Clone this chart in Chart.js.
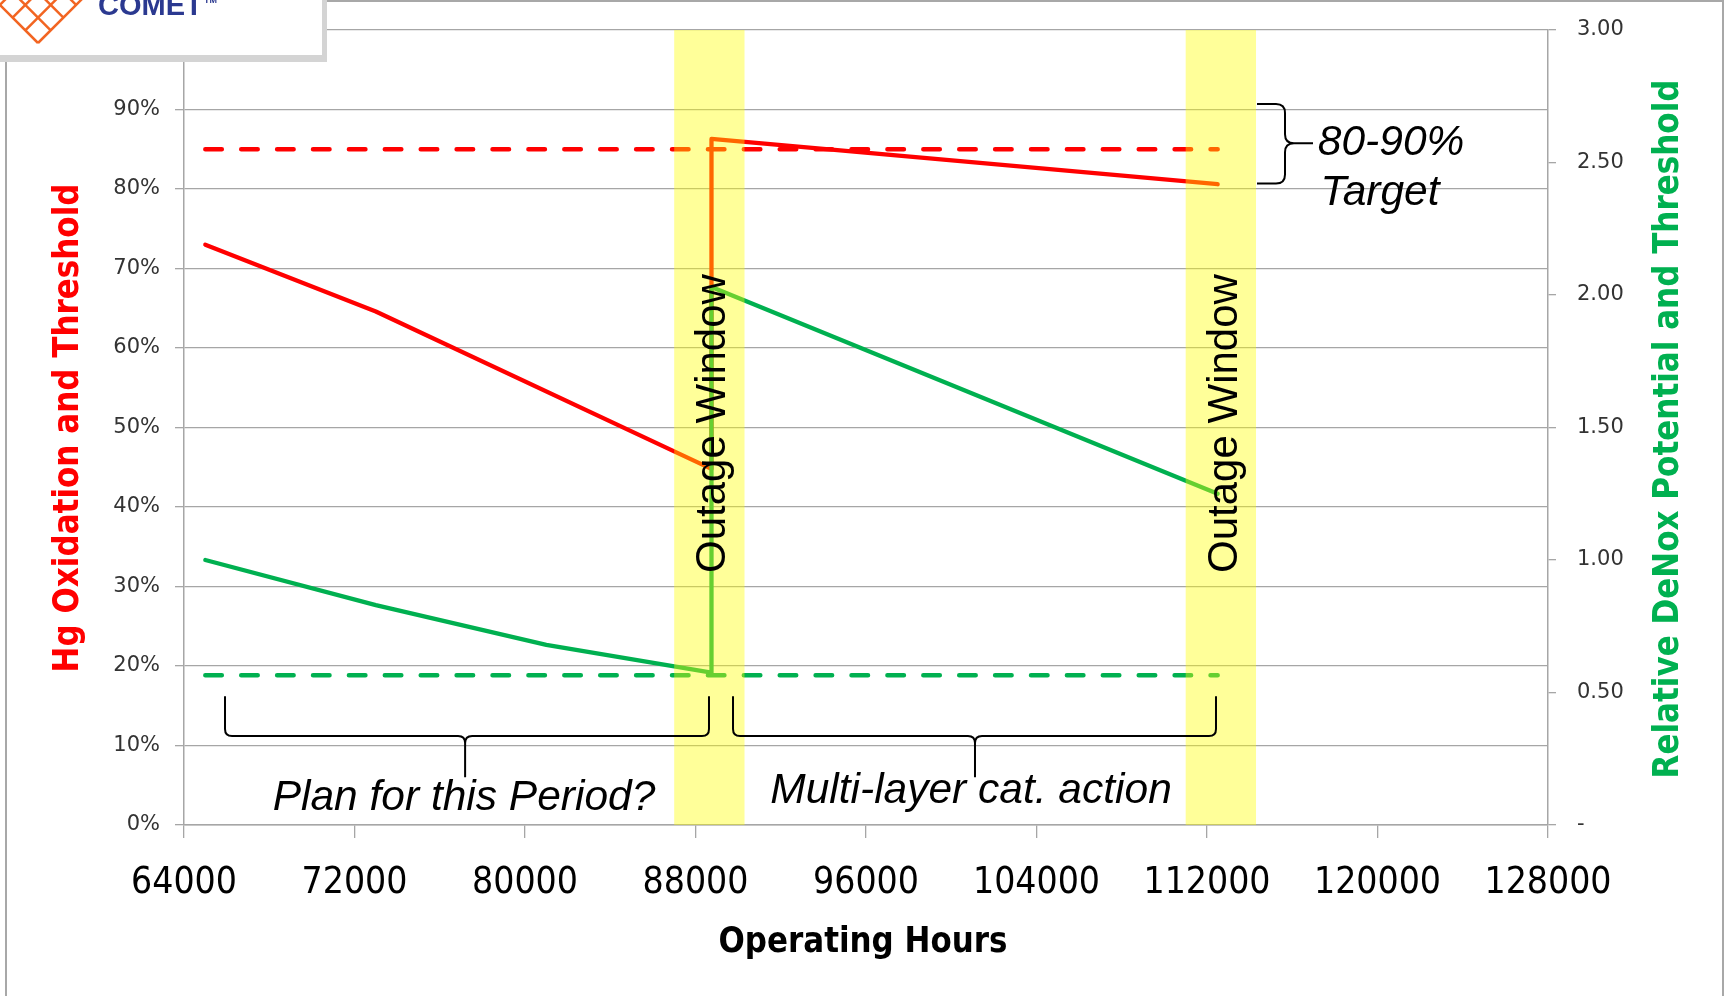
<!DOCTYPE html>
<html>
<head>
<meta charset="utf-8">
<script src="https://cdn.jsdelivr.net/npm/chart.js@4.4.1/dist/chart.umd.min.js"></script>
<style>
  html, body { margin: 0; padding: 0; background: #fff; overflow: hidden; }
  canvas { display: block; }
</style>
</head>
<body>
<canvas id="chart" width="1729" height="996"></canvas>
<script>
// Operating-hours axis ticks
const hourTicks = [64000, 72000, 80000, 88000, 96000, 104000, 112000, 120000, 128000];
// Left axis (Hg oxidation, %) and right axis (relative DeNOx) ticks
const percentTicks = [0, 10, 20, 30, 40, 50, 60, 70, 80, 90, 100];
const denoxTicks = [0, 0.5, 1.0, 1.5, 2.0, 2.5, 3.0];

// Hg oxidation (%) over operating hours
const hgHours = [65000, 73000, 88750, 88750, 112500];
const hgOxidation = [73.0, 64.6, 44.8, 86.3, 80.6];

// Relative DeNOx potential over operating hours
const denoxHours = [65000, 73000, 81000, 88750, 88750, 112500];
const denoxPotential = [1.00, 0.83, 0.68, 0.575, 2.03, 1.25];

// Threshold lines
const thresholdHours = [65000, 112500];
const hgThreshold = [85, 85];
const denoxThreshold = [0.565, 0.565];

// Outage windows (start / end operating hours)
const outageStart = [87000, 111000];
const outageEnd = [90300, 114300];

const RED = '#FF0000';
const GREEN = '#00B050';
const GRID = '#a6a6a6';

const pts = (xs, ys) => xs.map((x, i) => ({ x, y: ys[i] }));

// Annotation layout, in data units (hours / left-axis %)
const notes = {
  bottomBraces: [
    { x1: 65924, x2: 88633, tip: 77190, label: 'Plan for this Period?', labelX: 77138, labelY: 1.9 },
    { x1: 89760, x2: 112422, tip: 101114, label: 'Multi-layer cat. action', labelX: 100927, labelY: 2.8 }
  ],
  braceEnd: 16.2, braceSpine: 11.2, braceTip: 6.0,
  target: { xEnd: 114346, xSpine: 115660, xTip: 116974, yTop: 90.7, yBottom: 80.7, yTip: 85.75 },
  targetText: [
    { text: '80-90%', x: 117200, y: 84.3 },
    { text: 'Target', x: 117330, y: 78.0 }
  ],
  outageTextY: 50.5,
  outageTextShift: 200
};

function hBrace(ctx, x1, x2, xm, yEnd, ySpine, yTip, r) {
  ctx.beginPath();
  ctx.moveTo(x1, yEnd);
  ctx.lineTo(x1, ySpine - r);
  ctx.quadraticCurveTo(x1, ySpine, x1 + r, ySpine);
  ctx.lineTo(xm - r, ySpine);
  ctx.quadraticCurveTo(xm, ySpine, xm, ySpine + r);
  ctx.lineTo(xm, yTip);
  ctx.moveTo(xm, ySpine + r);
  ctx.quadraticCurveTo(xm, ySpine, xm + r, ySpine);
  ctx.lineTo(x2 - r, ySpine);
  ctx.quadraticCurveTo(x2, ySpine, x2, ySpine - r);
  ctx.lineTo(x2, yEnd);
  ctx.stroke();
}

function vBrace(ctx, y1, y2, ym, xEnd, xSpine, xTip, r) {
  ctx.beginPath();
  ctx.moveTo(xEnd, y1);
  ctx.lineTo(xSpine - r, y1);
  ctx.quadraticCurveTo(xSpine, y1, xSpine, y1 + r);
  ctx.lineTo(xSpine, ym - r);
  ctx.quadraticCurveTo(xSpine, ym, xSpine + r, ym);
  ctx.lineTo(xTip, ym);
  ctx.moveTo(xSpine + r, ym);
  ctx.quadraticCurveTo(xSpine, ym, xSpine, ym + r);
  ctx.lineTo(xSpine, y2 - r);
  ctx.quadraticCurveTo(xSpine, y2, xSpine - r, y2);
  ctx.lineTo(xEnd, y2);
  ctx.stroke();
}

// Draws text centred on (cx, cy), optionally rotated, stretched to a given length
function fitText(ctx, text, cx, cy, font, color, length, rotate) {
  ctx.save();
  ctx.font = font;
  ctx.fillStyle = color;
  ctx.textAlign = 'center';
  ctx.textBaseline = 'middle';
  const w = ctx.measureText(text).width;
  ctx.translate(cx, cy);
  if (rotate) ctx.rotate(-Math.PI / 2);
  ctx.scale(length / w, 1);
  ctx.fillText(text, 0, 0);
  ctx.restore();
}

// Keep the vertical axes from reserving extra room above/below the plot
const noVerticalPadding = s => { s.paddingTop = 0; s.paddingBottom = 0; };

const overlay = {
  id: 'overlay',
  afterDatasetsDraw(chart) {
    const { ctx, chartArea: a, scales: { x, y } } = chart;
    ctx.save();

    // translucent outage bands laid over the lines
    ctx.fillStyle = 'rgba(255,255,0,0.4)';
    outageStart.forEach((s, i) => {
      const x0 = x.getPixelForValue(s), x1 = x.getPixelForValue(outageEnd[i]);
      ctx.fillRect(x0, a.top, x1 - x0, a.bottom - a.top);
    });

    // vertical "Outage Window" labels
    ctx.fillStyle = '#000';
    ctx.font = '42px "Liberation Sans", Arial, sans-serif';
    ctx.textAlign = 'center';
    ctx.textBaseline = 'middle';
    outageStart.forEach((s, i) => {
      const cx = x.getPixelForValue((s + outageEnd[i]) / 2 + notes.outageTextShift);
      const cy = y.getPixelForValue(notes.outageTextY);
      ctx.save();
      ctx.translate(cx, cy);
      ctx.rotate(-Math.PI / 2);
      ctx.fillText('Outage Window', 0, 0);
      ctx.restore();
    });

    // braces
    ctx.strokeStyle = '#000';
    ctx.lineWidth = 2;
    ctx.lineJoin = 'round';
    const yEnd = y.getPixelForValue(notes.braceEnd);
    const ySpine = y.getPixelForValue(notes.braceSpine);
    const yTip = y.getPixelForValue(notes.braceTip);
    notes.bottomBraces.forEach(b => {
      hBrace(ctx, x.getPixelForValue(b.x1), x.getPixelForValue(b.x2), x.getPixelForValue(b.tip),
        yEnd, ySpine, yTip, 7);
    });
    const t = notes.target;
    vBrace(ctx, y.getPixelForValue(t.yTop), y.getPixelForValue(t.yBottom), y.getPixelForValue(t.yTip),
      x.getPixelForValue(t.xEnd), x.getPixelForValue(t.xSpine), x.getPixelForValue(t.xTip), 9);

    // italic notes
    ctx.font = 'italic 42.5px "Liberation Sans", Arial, sans-serif';
    ctx.textBaseline = 'alphabetic';
    ctx.fillStyle = '#000';
    ctx.textAlign = 'center';
    notes.bottomBraces.forEach(b => {
      ctx.fillText(b.label, x.getPixelForValue(b.labelX), y.getPixelForValue(b.labelY));
    });
    ctx.textAlign = 'left';
    notes.targetText.forEach(n => {
      ctx.fillText(n.text, x.getPixelForValue(n.x), y.getPixelForValue(n.y));
    });
    ctx.restore();
  },
  afterDraw(chart) {
    const { ctx } = chart;
    ctx.save();

    // axis titles
    const titleFont = 'bold 35px "DejaVu Sans Condensed", "Liberation Sans Narrow", Arial, sans-serif';
    fitText(ctx, 'Hg Oxidation and Threshold', 69, 428, titleFont, RED, 489, true);
    fitText(ctx, 'Relative DeNox Potential and Threshold', 1669, 429, titleFont, GREEN, 699, true);
    fitText(ctx, 'Operating Hours', 863, 943, 'bold 35px "DejaVu Sans Condensed", "Liberation Sans Narrow", Arial, sans-serif', '#000', 289, false);

    // page frame
    ctx.strokeStyle = '#a8a8a8';
    ctx.lineWidth = 2;
    ctx.beginPath();
    ctx.moveTo(6, 62); ctx.lineTo(6, 996);
    ctx.moveTo(327, 1); ctx.lineTo(1723, 1); ctx.lineTo(1723, 996);
    ctx.stroke();

    // logo card in the corner
    ctx.fillStyle = '#d4d4d4';
    ctx.fillRect(0, 0, 327, 62);
    ctx.fillStyle = '#fff';
    ctx.fillRect(0, 0, 322, 55);
    ctx.save();
    ctx.beginPath();
    ctx.rect(0, 0, 322, 55);
    ctx.clip();
    ctx.strokeStyle = '#F26522';
    ctx.lineWidth = 2.5;
    ctx.beginPath();
    const vx = 38, vy = 43, d = 12.7;
    for (let i = 0; i <= 4; i++) {
      ctx.moveTo(vx - i * d, vy - i * d);
      ctx.lineTo(vx - i * d + 4 * d, vy - i * d - 4 * d);
      ctx.moveTo(vx + i * d, vy - i * d);
      ctx.lineTo(vx + i * d - 4 * d, vy - i * d - 4 * d);
    }
    ctx.stroke();
    ctx.fillStyle = '#2B3990';
    ctx.font = 'bold 29px "Liberation Sans", Arial, sans-serif';
    ctx.textAlign = 'left';
    ctx.textBaseline = 'alphabetic';
    ctx.fillText('COMET', 98, 15);
    ctx.font = 'bold 9px "Liberation Sans", Arial, sans-serif';
    ctx.fillText('TM', 204, 3);
    ctx.restore();

    ctx.restore();
  }
};

const lineStyle = {
  pointRadius: 0,
  borderCapStyle: 'round',
  borderJoinStyle: 'round',
  tension: 0,
  fill: false
};

new Chart(document.getElementById('chart'), {
  type: 'line',
  data: {
    datasets: [
      Object.assign({ label: 'Relative DeNox Potential', data: pts(denoxHours, denoxPotential),
        yAxisID: 'y1', borderColor: GREEN, borderWidth: 4.3 }, lineStyle),
      Object.assign({ label: 'Hg Oxidation', data: pts(hgHours, hgOxidation),
        yAxisID: 'y', borderColor: RED, borderWidth: 4.3 }, lineStyle),
      Object.assign({ label: 'DeNox Threshold', data: pts(thresholdHours, denoxThreshold),
        yAxisID: 'y1', borderColor: GREEN, borderWidth: 4.5, borderDash: [16.5, 19.4] }, lineStyle),
      Object.assign({ label: 'Hg Oxidation Threshold', data: pts(thresholdHours, hgThreshold),
        yAxisID: 'y', borderColor: RED, borderWidth: 4.5, borderDash: [16.5, 19.4] }, lineStyle)
    ]
  },
  options: {
    responsive: false,
    devicePixelRatio: 1,
    animation: false,
    layout: { padding: { top: 30, left: 0, right: 0, bottom: 0 } },
    plugins: { legend: { display: false }, tooltip: { enabled: false }, title: { display: false } },
    scales: {
      x: {
        type: 'linear',
        min: 64000, max: 128000,
        afterBuildTicks: s => { s.ticks = hourTicks.map(v => ({ value: v })); },
        afterFit: s => { s.height = 171; },
        ticks: {
          callback: v => String(v),
          autoSkip: false, maxRotation: 0,
          color: '#000',
          padding: 23,
          font: { family: '"DejaVu Sans Condensed", "Liberation Sans Narrow", Arial, sans-serif', size: 37 }
        },
        grid: { drawOnChartArea: false, drawTicks: true, tickLength: 13, color: GRID, lineWidth: 1.3 },
        border: { color: GRID, width: 1.5 }
      },
      y: {
        type: 'linear', position: 'left',
        min: 0, max: 100,
        afterBuildTicks: s => { s.ticks = percentTicks.map(v => ({ value: v })); },
        afterFit: s => { s.width = 184; noVerticalPadding(s); },
        ticks: {
          callback: v => v + '%',
          color: '#333',
          padding: 15,
          font: { family: '"DejaVu Sans", sans-serif', size: 21 }
        },
        grid: { color: GRID, lineWidth: 1.3, tickLength: 9 },
        border: { color: GRID, width: 1.5 }
      },
      y1: {
        type: 'linear', position: 'right',
        min: 0, max: 3,
        afterBuildTicks: s => { s.ticks = denoxTicks.map(v => ({ value: v })); },
        afterFit: s => { s.width = 181; noVerticalPadding(s); },
        ticks: {
          callback: v => (v === 0 ? '-' : v.toFixed(2)),
          color: '#333',
          padding: 21,
          font: { family: '"DejaVu Sans", sans-serif', size: 21 }
        },
        grid: { drawOnChartArea: false, tickLength: 8, color: GRID, lineWidth: 1.3 },
        border: { color: GRID, width: 1.5 }
      }
    }
  },
  plugins: [overlay]
});
</script>
</body>
</html>
